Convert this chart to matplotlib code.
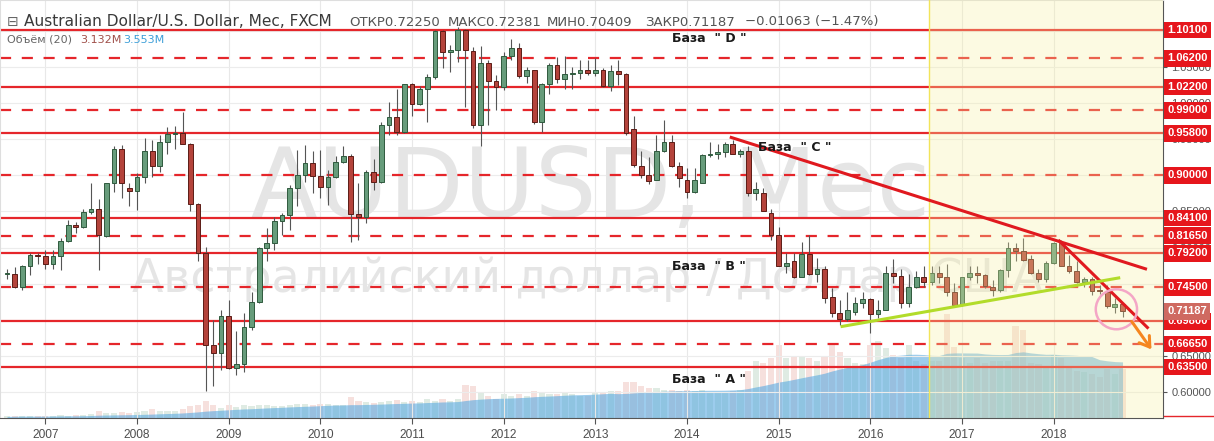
import numpy as np
import pandas as pd
import matplotlib
matplotlib.use("Agg")
import matplotlib.pyplot as plt
from matplotlib import transforms
from matplotlib.patches import Ellipse
from matplotlib.lines import Line2D

# ---------------- data (monthly AUDUSD, Aug 2006 - Oct 2018) ----------------
start_month = "2006-08-01"
opens = [0.764, 0.764, 0.745, 0.775, 0.790,
         0.789, 0.777, 0.788, 0.809, 0.831, 0.828, 0.849, 0.853, 0.816, 0.889, 0.936, 0.883,
         0.878, 0.897, 0.934, 0.913, 0.946, 0.957, 0.959, 0.944, 0.860, 0.792, 0.665, 0.654,
         0.705, 0.634, 0.639, 0.690, 0.725, 0.800, 0.806, 0.837, 0.845, 0.883, 0.901, 0.917,
         0.899, 0.884, 0.898, 0.918, 0.927, 0.846, 0.842, 0.905, 0.891, 0.969, 0.981, 0.960,
         1.026, 0.999, 1.020, 1.036, 1.099, 1.070, 1.074, 1.101, 1.072, 0.969, 1.055, 1.030,
         1.022, 1.065, 1.076, 1.037, 1.045, 0.974, 1.026, 1.052, 1.033, 1.040, 1.041, 1.046,
         1.041, 1.045, 1.023, 1.044, 1.040, 0.964, 0.913, 0.900, 0.894, 0.933, 0.946, 0.913,
         0.894, 0.877, 0.890, 0.928, 0.930, 0.932, 0.944, 0.930, 0.933, 0.875, 0.876, 0.848,
         0.817, 0.775, 0.781, 0.760, 0.791, 0.763, 0.770, 0.731, 0.710, 0.701, 0.711, 0.723,
         0.729, 0.708, 0.714, 0.765, 0.761, 0.723, 0.745, 0.759, 0.752, 0.765, 0.760, 0.738,
         0.720, 0.759, 0.765, 0.762, 0.746, 0.742, 0.769, 0.800, 0.795, 0.784, 0.765, 0.756,
         0.779, 0.806, 0.775, 0.768, 0.753, 0.756, 0.742, 0.739, 0.718, 0.72250]
highs = [0.771, 0.773, 0.776, 0.792, 0.793,
         0.797, 0.797, 0.813, 0.838, 0.836, 0.854, 0.889, 0.867, 0.889, 0.940, 0.942, 0.889,
         0.903, 0.951, 0.949, 0.956, 0.967, 0.968, 0.988, 0.945, 0.862, 0.801, 0.700, 0.714,
         0.728, 0.684, 0.709, 0.739, 0.801, 0.827, 0.843, 0.848, 0.887, 0.935, 0.942, 0.934,
         0.935, 0.907, 0.927, 0.941, 0.930, 0.889, 0.908, 0.923, 0.974, 1.002, 1.020, 1.026,
         1.027, 1.023, 1.040, 1.101, 1.101, 1.080, 1.105, 1.103, 1.078, 1.079, 1.059, 1.039,
         1.071, 1.088, 1.083, 1.050, 1.046, 1.027, 1.055, 1.064, 1.065, 1.050, 1.060, 1.060,
         1.062, 1.048, 1.053, 1.060, 1.041, 0.982, 0.933, 0.926, 0.956, 0.977, 0.956, 0.919,
         0.910, 0.910, 0.930, 0.946, 0.944, 0.946, 0.949, 0.937, 0.940, 0.891, 0.882, 0.854,
         0.829, 0.792, 0.792, 0.808, 0.817, 0.785, 0.774, 0.744, 0.728, 0.739, 0.732, 0.739,
         0.730, 0.728, 0.774, 0.784, 0.771, 0.764, 0.767, 0.775, 0.774, 0.774, 0.778, 0.751,
         0.760, 0.774, 0.775, 0.764, 0.755, 0.771, 0.808, 0.806, 0.813, 0.790, 0.771, 0.782,
         0.808, 0.810, 0.790, 0.781, 0.760, 0.760, 0.748, 0.748, 0.730, 0.72381]
lows = [0.757, 0.744, 0.742, 0.762, 0.778,
        0.771, 0.771, 0.769, 0.808, 0.820, 0.827, 0.846, 0.769, 0.815, 0.877, 0.868, 0.857,
        0.852, 0.890, 0.898, 0.905, 0.930, 0.936, 0.943, 0.851, 0.781, 0.602, 0.609, 0.631,
        0.632, 0.624, 0.628, 0.686, 0.724, 0.781, 0.797, 0.817, 0.824, 0.858, 0.891, 0.875,
        0.868, 0.859, 0.896, 0.917, 0.808, 0.810, 0.834, 0.879, 0.890, 0.956, 0.956, 0.958,
        0.982, 0.997, 0.974, 1.033, 1.048, 1.043, 1.057, 0.995, 0.965, 0.940, 0.969, 0.990,
        1.018, 1.059, 1.034, 1.027, 0.971, 0.960, 1.013, 1.028, 1.020, 1.019, 1.033, 1.039,
        1.037, 1.022, 1.016, 1.025, 0.956, 0.912, 0.896, 0.888, 0.893, 0.932, 0.912, 0.884,
        0.868, 0.875, 0.889, 0.926, 0.923, 0.925, 0.929, 0.926, 0.871, 0.866, 0.850, 0.810,
        0.775, 0.765, 0.758, 0.759, 0.762, 0.753, 0.724, 0.704, 0.693, 0.698, 0.707, 0.717,
        0.682, 0.702, 0.713, 0.751, 0.716, 0.718, 0.744, 0.746, 0.748, 0.751, 0.733, 0.718,
        0.719, 0.755, 0.751, 0.744, 0.733, 0.739, 0.760, 0.781, 0.782, 0.764, 0.753, 0.753,
        0.778, 0.774, 0.765, 0.751, 0.746, 0.734, 0.736, 0.717, 0.709, 0.70409]
closes = [0.765, 0.745, 0.775, 0.790, 0.789,
          0.777, 0.788, 0.809, 0.831, 0.828, 0.849, 0.853, 0.818, 0.889, 0.936, 0.889, 0.878,
          0.897, 0.934, 0.913, 0.946, 0.957, 0.959, 0.944, 0.860, 0.792, 0.665, 0.654, 0.705,
          0.634, 0.639, 0.690, 0.725, 0.800, 0.806, 0.837, 0.845, 0.883, 0.901, 0.917, 0.899,
          0.884, 0.898, 0.918, 0.927, 0.846, 0.842, 0.905, 0.891, 0.969, 0.981, 0.960, 1.026,
          0.999, 1.020, 1.036, 1.099, 1.070, 1.074, 1.101, 1.073, 0.969, 1.055, 1.030, 1.022,
          1.065, 1.076, 1.037, 1.045, 0.974, 1.026, 1.052, 1.033, 1.040, 1.041, 1.046, 1.041,
          1.045, 1.023, 1.044, 1.040, 0.958, 0.914, 0.900, 0.892, 0.933, 0.946, 0.913, 0.896,
          0.877, 0.894, 0.928, 0.930, 0.932, 0.944, 0.930, 0.934, 0.875, 0.881, 0.851, 0.817,
          0.775, 0.779, 0.760, 0.791, 0.764, 0.770, 0.730, 0.710, 0.701, 0.714, 0.723, 0.729,
          0.708, 0.714, 0.765, 0.761, 0.723, 0.745, 0.759, 0.752, 0.765, 0.760, 0.738, 0.720,
          0.759, 0.765, 0.762, 0.747, 0.742, 0.769, 0.800, 0.795, 0.783, 0.765, 0.756, 0.779,
          0.806, 0.775, 0.768, 0.753, 0.756, 0.740, 0.740, 0.719, 0.722, 0.71187]
volume_m = [0.10, 0.12, 0.14, 0.12, 0.10,
            0.15, 0.15, 0.18, 0.15, 0.18, 0.20, 0.28, 0.45, 0.30, 0.30, 0.35, 0.30,
            0.40, 0.45, 0.55, 0.45, 0.45, 0.45, 0.55, 0.75, 0.85, 1.10, 0.80, 0.65,
            0.80, 0.70, 0.80, 0.75, 0.80, 0.80, 0.75, 0.75, 0.80, 0.90, 0.90, 0.80,
            0.90, 0.90, 0.85, 0.85, 1.30, 1.10, 1.00, 0.95, 1.00, 1.10, 1.15, 1.00,
            1.10, 1.00, 1.20, 1.10, 1.20, 1.10, 1.20, 2.10, 2.00, 1.60, 1.40, 1.20,
            1.50, 1.40, 1.50, 1.40, 1.70, 1.60, 1.50, 1.50, 1.60, 1.50, 1.40, 1.40,
            1.60, 1.60, 1.70, 1.70, 2.30, 2.30, 2.00, 1.90, 1.90, 1.80, 1.80, 1.70,
            1.80, 1.70, 1.80, 1.60, 1.60, 1.60, 1.70, 1.80, 3.00, 3.60, 3.50, 3.80,
            4.60, 3.80, 3.90, 3.90, 3.80, 3.60, 3.90, 4.60, 4.20, 3.80, 3.50, 3.40,
            4.60, 4.90, 4.40, 4.00, 3.80, 4.60, 3.60, 3.40, 3.60, 3.60, 6.60, 4.50,
            3.80, 3.50, 3.80, 3.50, 3.60, 3.60, 3.60, 5.80, 5.60, 3.50, 3.40, 3.20,
            4.00, 3.80, 3.30, 3.00, 2.90, 2.80, 2.60, 3.10, 2.80, 3.132]
levels_solid = [1.101, 1.022, 0.958, 0.841, 0.792, 0.698, 0.635]
levels_dashed = [1.062, 0.990, 0.900, 0.8165, 0.745, 0.6665]
last_price = 0.71187
price_ticks = [0.60, 0.65, 0.70, 0.75, 0.80, 0.85, 0.90, 0.95, 1.00, 1.05, 1.10]
base_labels = ['База  " D "', 'База  " C "', 'База  " B "', 'База  " A "']
header_title = "Australian Dollar/U.S. Dollar, Мес, FXCM"
header_values = ["ОТКР0.72250", "МАКС0.72381", "МИН0.70409", "ЗАКР0.71187", "−0.01063 (−1.47%)"]

# ---------------- figure ----------------
W, H = 1214, 441
fig = plt.figure(figsize=(W / 100, H / 100), dpi=100)
fig.patch.set_facecolor("white")

ax = fig.add_axes([0.0, 23 / H, 1163 / W, 418 / H])
axv = ax.twinx()
ax.set_zorder(axv.get_zorder() + 1)
ax.patch.set_visible(False)
axv.patch.set_facecolor("white")

n = len(opens)
idx = np.arange(n)
dates = pd.date_range(start_month, periods=n, freq="MS")
o = np.array(opens); h = np.array(highs); l = np.array(lows); c = np.array(closes)
up = c >= o

ax.set_xlim(-0.92, 151.3)
ax.set_ylim(0.5643, 1.1425)

# volume pane
vol = pd.Series(volume_m)
vol_ma = vol.rolling(20, min_periods=1).mean()
vcol = np.where(up, "#dfebe3", "#f6e0dd")
axv.bar(idx, vol, width=0.8, color=vcol, linewidth=0, zorder=1)
axv.fill_between(idx, vol_ma, color=(90 / 255, 170 / 255, 225 / 255), alpha=0.6, lw=0, zorder=2)
axv.set_ylim(0, 418 / 15.8)
axv.set_yticks([])
for s in axv.spines.values():
    s.set_visible(False)

# grid
year_pos = [i for i, d in enumerate(dates) if d.month == 1]
year_lab = [str(dates[i].year) for i in year_pos]
for xp in year_pos:
    ax.axvline(xp, color="#e8e8e8", lw=0.8, zorder=0.4)
for yp in price_ticks:
    ax.axhline(yp, color="#ececec", lw=0.8, zorder=0.4)

# watermarks
ax.text(76.4, 0.8424, "AUDUSD, Мес", fontsize=70, family="DejaVu Sans", color="#e5e5e5",
        ha="center", va="baseline", zorder=0.5)
ax.text(76.0, 0.7386, "Австралийский доллар / Доллар США", fontsize=33, family="DejaVu Sans",
        color="#e5e5e5", ha="center", va="baseline", zorder=0.5)

# levels
for lv in levels_solid:
    ax.axhline(lv, color="#e5262b", lw=1.6, zorder=1.5)
for lv in levels_dashed:
    ln = ax.axhline(lv, color="#e5262b", lw=1.6, zorder=1.5)
    ln.set_dashes((5.0, 4.8))

# candles
ax.vlines(idx, l, h, color="#555555", lw=0.8, zorder=2)
body_b = np.minimum(o, c)
body_h = np.maximum(np.abs(c - o), 0.0012)
ax.bar(idx[up], body_h[up], bottom=body_b[up], width=0.62, color="#679c7b",
       edgecolor="#2f5a3e", linewidth=0.7, zorder=2.2)
ax.bar(idx[~up], body_h[~up], bottom=body_b[~up], width=0.62, color="#b4433b",
       edgecolor="#5c1c16", linewidth=0.7, zorder=2.2)

# highlighted period
ax.axvspan(120.7, 152, color="#f7f0a0", alpha=0.3, lw=0, zorder=3)
ax.axvline(120.7, color="#f2e45a", lw=1.0, zorder=3.1)

# trend lines
ax.plot([94.6, 149.2], [0.953, 0.770], color="#e0191f", lw=2.2, zorder=4, solid_capstyle="butt")
ax.plot([137.6, 149.4], [0.8105, 0.688], color="#e0191f", lw=2.2, zorder=4, solid_capstyle="butt")
ax.plot([109.1, 145.7], [0.6906, 0.7584], color="#b2dc2a", lw=2.2, zorder=4, solid_capstyle="butt")
ax.add_patch(Ellipse((145.2, 0.7147), 5.4, 0.0553, fill=False, edgecolor="#f4a6c6",
                     lw=1.8, zorder=4))
ax.annotate("", xy=(150.0, 0.656), xytext=(147.0, 0.7009),
            arrowprops=dict(arrowstyle="->,head_width=0.45,head_length=0.7",
                            color="#f5861f", lw=2.2), zorder=4)

# base labels
for (bx, by), txt in zip([(87.0, 1.0899), (98.3, 0.9378), (87.0, 0.7733), (87.0, 0.6169)], base_labels):
    ax.text(bx, by, txt, fontsize=9, fontweight="bold", family="DejaVu Sans", color="#1a1a1a",
            ha="left", va="center", zorder=5)

# axes styling
ax.yaxis.tick_right()
ax.set_yticks(price_ticks)
ax.set_yticklabels([f"{p:.5f}" for p in price_ticks])
ax.tick_params(axis="y", length=3, color="#555555", labelsize=8, labelcolor="#555555", pad=3)
for lab in ax.get_yticklabels():
    lab.set_family("Liberation Sans")
ax.set_xticks(year_pos)
ax.set_xticklabels(year_lab)
ax.tick_params(axis="x", length=4, color="#555555", labelsize=8.6, labelcolor="#4d4d4d", pad=4)
for lab in ax.get_xticklabels():
    lab.set_family("Liberation Sans")
ax.spines["right"].set_color("#555555")
ax.spines["bottom"].set_color("#555555")
ax.spines["top"].set_color("#dedede")
ax.spines["left"].set_color("#dedede")

# level labels on price scale
btrans = transforms.blended_transform_factory(ax.transAxes, ax.transData)
ltrans = transforms.offset_copy(btrans, fig=fig, x=4, y=0, units="dots")
for lv in sorted(levels_solid + levels_dashed):
    ax.text(1.0, lv, f"{lv:.5f}", transform=ltrans, ha="left", va="center", fontsize=8,
            fontweight="bold", family="Liberation Sans", color="white", clip_on=False, zorder=6,
            bbox=dict(boxstyle="square,pad=0.3", fc="#e6161c", ec="none"))
ax.text(1.0, last_price, f"{last_price:.5f}", transform=ltrans, ha="left", va="center",
        fontsize=8, fontweight="bold", family="Liberation Sans", color="white", clip_on=False,
        zorder=7, bbox=dict(boxstyle="square,pad=0.3", fc="#cf6a61", ec="none"))
fig.add_artist(Line2D([1164 / W, 1.0], [25 / H, 25 / H], color="#e5262b", lw=1))

# header
ty = 1 - 22 / H
fig.text(7 / W, ty, "⊟", fontsize=10, color="#666666", va="center", family="DejaVu Sans")
fig.text(24 / W, ty, header_title, fontsize=11.1, color="#3a3a3a", va="center", family="DejaVu Sans")
for xp, s in zip([349, 448, 547, 645, 745], header_values):
    fig.text(xp / W, ty, s, fontsize=9.5, color="#555555", va="center", family="DejaVu Sans")
vy = 1 - 40 / H
fig.text(7 / W, vy, "Объём (20)", fontsize=8, color="#666666", va="center", family="DejaVu Sans")
fig.text(80 / W, vy, "3.132M", fontsize=8, color="#a0504a", va="center", family="DejaVu Sans")
fig.text(123 / W, vy, "3.553M", fontsize=8, color="#3d9fd8", va="center", family="DejaVu Sans")

fig.savefig("out.png", dpi=100, facecolor="white")
